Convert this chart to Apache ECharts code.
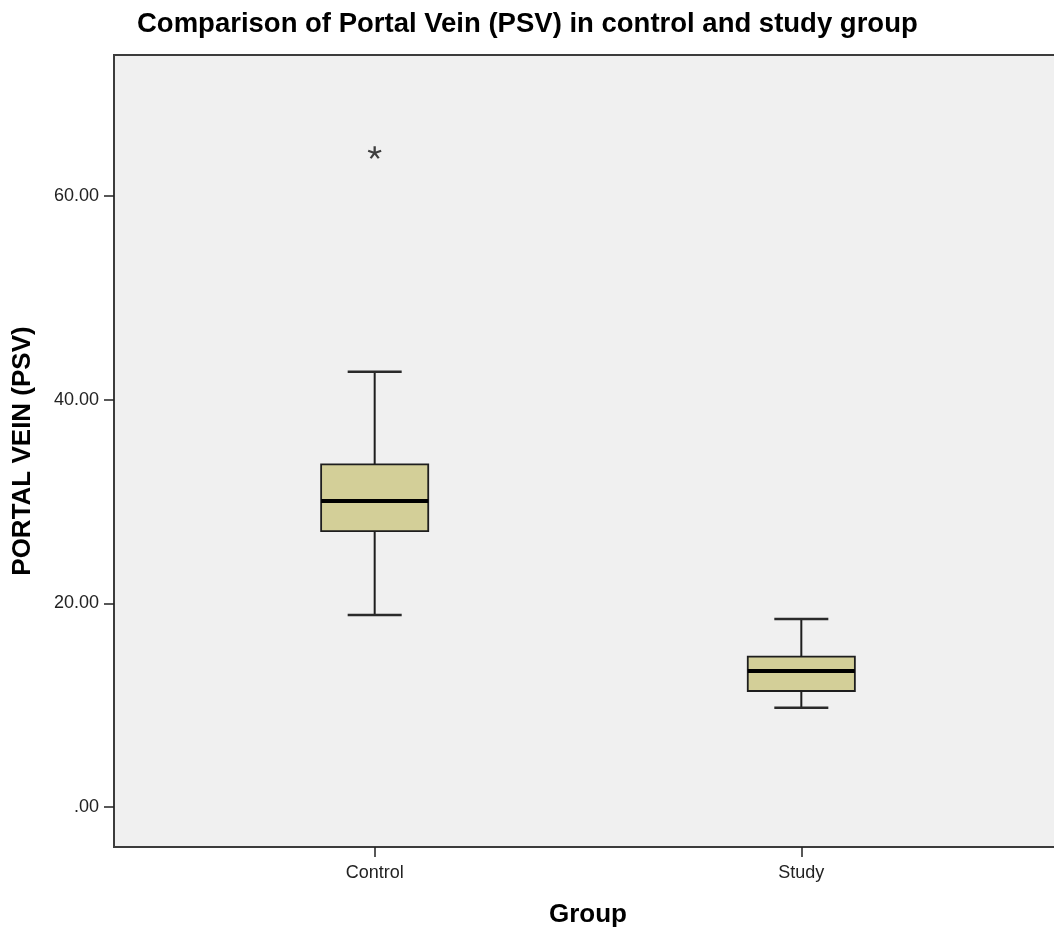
<!DOCTYPE html>
<html>
<head>
<meta charset="utf-8">
<script src="https://cdn.jsdelivr.net/npm/echarts@6/dist/echarts.min.js"></script>
<style>
html,body{margin:0;padding:0;background:#fff;}
#chart{width:1054px;height:931px;}
</style>
</head>
<body>
<div id="chart"></div>
<script>
// ---- data ----
const categories = ['Control', 'Study'];
const whiskerLow  = [18.85, 9.75];
const quartile1   = [27.10, 11.39];
const medians     = [30.05, 13.36];
const quartile3   = [33.65, 14.76];
const whiskerHigh = [42.75, 18.46];
const outliers    = [[0, 64.3]];          // [group index, value]
const yTickValues = [0, 20, 40, 60];
const yTickLabels = ['.00', '20.00', '40.00', '60.00'];

const boxData = categories.map((c, i) => [i, whiskerLow[i], quartile1[i], medians[i], quartile3[i], whiskerHigh[i]]);

const chart = echarts.init(document.getElementById('chart'), null, {renderer: 'canvas'});
const FONT = '"Liberation Sans", Arial, Helvetica, sans-serif';

const option = {
  backgroundColor: '#ffffff',
  animation: false,
  title: {
    text: 'Comparison of Portal Vein (PSV) in control and study group',
    left: 137, top: 10, padding: 0,
    textStyle: {fontFamily: FONT, fontSize: 27.5, fontWeight: 'bold', color: '#000'}
  },
  grid: {
    left: 114, width: 948, top: 55, height: 792,
    containLabel: false, outerBoundsMode: 'none',
    show: true, backgroundColor: '#f0f0f0', borderColor: '#3c3c3c', borderWidth: 2
  },
  xAxis: {
    type: 'value', min: -0.611, max: 1.611,
    name: 'Group', nameLocation: 'middle', nameGap: 55,
    nameTextStyle: {fontFamily: FONT, fontSize: 26, fontWeight: 'bold', color: '#000'},
    axisLine: {show: true, onZero: false, lineStyle: {color: '#3c3c3c', width: 2}},
    axisTick: {show: true, length: 10, customValues: [0, 1], lineStyle: {color: '#222', width: 1.5}},
    axisLabel: {customValues: [0, 1], margin: 17, fontFamily: FONT, fontSize: 18, color: '#222',
      formatter: v => categories[Math.round(v)]},
    splitLine: {show: false}
  },
  yAxis: {
    type: 'value', min: -3.93, max: 73.85,
    name: 'PORTAL VEIN (PSV)', nameLocation: 'middle', nameGap: 78,
    nameTextStyle: {fontFamily: FONT, fontSize: 26, fontWeight: 'bold', color: '#000'},
    axisLine: {show: true, onZero: false, lineStyle: {color: '#3c3c3c', width: 2}},
    axisTick: {show: true, length: 10, customValues: yTickValues, lineStyle: {color: '#222', width: 1.5}},
    axisLabel: {customValues: yTickValues, margin: 15, fontFamily: FONT, fontSize: 18, color: '#222',
      formatter: v => yTickLabels[yTickValues.indexOf(v)]},
    splitLine: {show: false}
  },
  series: [
    {
      type: 'custom',
      data: boxData,
      renderItem: function (params, api) {
        const x = api.value(0);
        const lo = api.coord([x, api.value(1)]);
        const q1 = api.coord([x, api.value(2)]);
        const md = api.coord([x, api.value(3)]);
        const q3 = api.coord([x, api.value(4)]);
        const hi = api.coord([x, api.value(5)]);
        const boxW = api.size([0.251, 0])[0];
        const capW = api.size([0.1266, 0])[0];
        const cx = lo[0];
        const lineStyle = {stroke: '#1e1e1e', lineWidth: 2};
        return {
          type: 'group',
          children: [
            {type: 'line', shape: {x1: cx, y1: hi[1], x2: cx, y2: q3[1]}, style: lineStyle},
            {type: 'line', shape: {x1: cx, y1: q1[1], x2: cx, y2: lo[1]}, style: lineStyle},
            {type: 'line', shape: {x1: cx - capW / 2, y1: hi[1], x2: cx + capW / 2, y2: hi[1]}, style: {stroke: '#2a2a2a', lineWidth: 2.5}},
            {type: 'line', shape: {x1: cx - capW / 2, y1: lo[1], x2: cx + capW / 2, y2: lo[1]}, style: {stroke: '#2a2a2a', lineWidth: 2.5}},
            {type: 'rect', shape: {x: cx - boxW / 2, y: q3[1], width: boxW, height: q1[1] - q3[1]},
              style: {fill: '#d3cf98', stroke: '#1e1e1e', lineWidth: 1.8}},
            {type: 'line', shape: {x1: cx - boxW / 2, y1: md[1], x2: cx + boxW / 2, y2: md[1]}, style: {stroke: '#000', lineWidth: 4}}
          ]
        };
      },
      z: 3
    },
    {
      type: 'scatter',
      data: outliers,
      symbol: 'path://M0,-6L0,0M0,0L5.7,-1.85M0,0L3.53,4.85M0,0L-3.53,4.85M0,0L-5.7,-1.85',
      symbolSize: [13, 12],
      itemStyle: {color: 'transparent', borderColor: '#111', borderWidth: 2.2},
      z: 4
    }
  ]
};
chart.setOption(option);
</script>
</body>
</html>
